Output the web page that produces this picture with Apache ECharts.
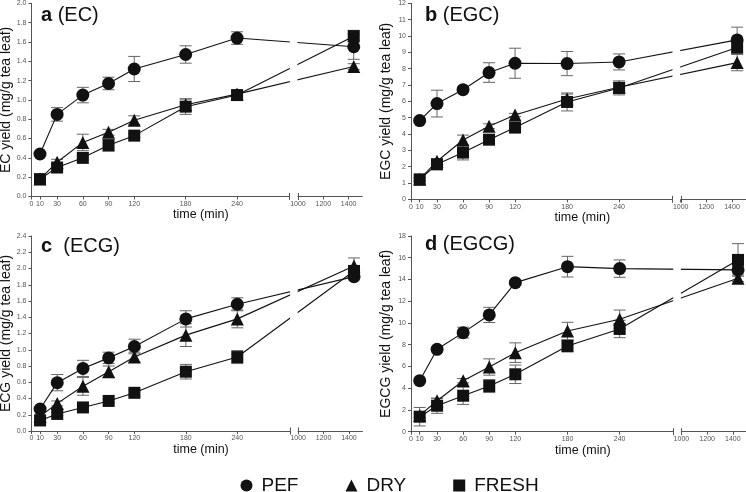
<!DOCTYPE html>
<html>
<head>
<meta charset="utf-8">
<script src="https://cdn.jsdelivr.net/npm/echarts@6/dist/echarts.min.js"></script>
<style>
html,body{margin:0;padding:0;background:#fff;}
#chart{width:746px;height:492px;}
</style>
</head>
<body>
<div id="chart"></div>
<script>
// ---------- data ----------
const timesMin = [10, 30, 60, 90, 120, 180, 240, 1440];
const xTickTimes = [0, 10, 30, 60, 90, 120, 180, 240, 1000, 1200, 1400];
const seriesNames = ['PEF', 'DRY', 'FRESH'];

const panelLetters = ['a', 'b', 'c', 'd'];
const panelCompounds = ['EC', 'EGC', 'ECG', 'EGCG'];

// EC
const ecPef = [0.44, 0.85, 1.05, 1.17, 1.32, 1.47, 1.64, 1.55];
const ecPefErr = [0.02, 0.07, 0.08, 0.065, 0.13, 0.09, 0.065, 0.13];
const ecDry = [0.18, 0.355, 0.56, 0.665, 0.79, 0.95, 1.06, 1.345];
const ecDryErr = [0.02, 0.03, 0.085, 0.03, 0.045, 0.06, 0.03, 0.03];
const ecFresh = [0.18, 0.30, 0.40, 0.53, 0.63, 0.93, 1.05, 1.66];
const ecFreshErr = [0.02, 0.02, 0.02, 0.06, 0.02, 0.08, 0.05, 0.06];

// EGC
const egcPef = [4.82, 5.86, 6.71, 7.76, 8.33, 8.31, 8.41, 9.76];
const egcPefErr = [0.1, 0.82, 0.1, 0.6, 0.92, 0.74, 0.49, 0.78];
const egcDry = [1.22, 2.33, 3.63, 4.47, 5.16, 6.14, 6.86, 8.37];
const egcDryErr = [0.1, 0.15, 0.3, 0.15, 0.1, 0.3, 0.3, 0.5];
const egcFresh = [1.22, 2.14, 2.86, 3.65, 4.39, 5.96, 6.82, 9.29];
const egcFreshErr = [0.1, 0.15, 0.45, 0.2, 0.1, 0.55, 0.43, 0.35];

// ECG
const ecgPef = [0.27, 0.595, 0.77, 0.90, 1.04, 1.38, 1.56, 1.90];
const ecgPefErr = [0.02, 0.1, 0.1, 0.07, 0.09, 0.1, 0.08, 0.04];
const ecgDry = [0.18, 0.34, 0.55, 0.73, 0.91, 1.18, 1.38, 2.03];
const ecgDryErr = [0.02, 0.03, 0.11, 0.07, 0.06, 0.14, 0.11, 0.1];
const ecgFresh = [0.13, 0.21, 0.29, 0.37, 0.47, 0.73, 0.91, 1.97];
const ecgFreshErr = [0.02, 0.02, 0.02, 0.02, 0.04, 0.09, 0.08, 0.05];

// EGCG
const egcgPef = [4.69, 7.58, 9.11, 10.74, 13.71, 15.18, 15.0, 14.88];
const egcgPefErr = [0.1, 0.2, 0.5, 0.7, 0.2, 0.95, 0.8, 0.3];
const egcgDry = [1.5, 2.85, 4.69, 5.95, 7.27, 9.26, 10.34, 14.11];
const egcgDryErr = [0.2, 0.2, 0.2, 0.75, 0.9, 0.8, 0.85, 0.3];
const egcgFresh = [1.38, 2.39, 3.31, 4.2, 5.28, 7.88, 9.45, 15.8];
const egcgFreshErr = [0.85, 0.7, 0.8, 0.6, 0.85, 0.55, 0.8, 1.5];

const yMax = [2.0, 12, 2.4, 18];
const yStep = [0.2, 1, 0.2, 2];
const yDecimals = [1, 0, 1, 0];

// ---------- layout / build ----------
const FONT = '"Liberation Sans", Arial, Helvetica, sans-serif';
const BREAK_LEFT_END = 301;   // last minute of left segment
const RIGHT_START_D = 311;    // axis coordinate where t=1000 sits
const RIGHT_SCALE = 0.148;    // compression of the 1000+ segment
const X_MAX_D = 386;

function toAxis(t) { return t <= BREAK_LEFT_END ? t : RIGHT_START_D + (t - 1000) * RIGHT_SCALE; }
function fromAxis(d) { return d <= BREAK_LEFT_END + 1 ? Math.round(d) : Math.round(1000 + (d - RIGHT_START_D) / RIGHT_SCALE); }

const panelData = [
  [[ecPef, ecPefErr], [ecDry, ecDryErr], [ecFresh, ecFreshErr]],
  [[egcPef, egcPefErr], [egcDry, egcDryErr], [egcFresh, egcFreshErr]],
  [[ecgPef, ecgPefErr], [ecgDry, ecgDryErr], [ecgFresh, ecgFreshErr]],
  [[egcgPef, egcgPefErr], [egcgDry, egcgDryErr], [egcgFresh, egcgFreshErr]]
];

const grids = [
  { left: 31.4, top: 3.3, width: 330.8, height: 193.2 },
  { left: 411, top: 3.3, width: 334.7, height: 196 },
  { left: 31.5, top: 236, width: 331, height: 195 },
  { left: 411, top: 236, width: 335.6, height: 195.7 }
];
const titlePos = [
  { left: 41, top: 5, gap: ' ' },
  { left: 425, top: 5, gap: ' ' },
  { left: 41, top: 236, gap: '  ' },
  { left: 425, top: 234, gap: ' ' }
];
const symbols = ['circle', 'triangle', 'rect'];
const symbolSizes = [13, 13, 12];
const AXIS_COLOR = '#555';

const option = {
  animation: false,
  backgroundColor: '#fff',
  textStyle: { fontFamily: FONT },
  title: panelLetters.map((l, i) => ({
    text: '{b|' + l + '}' + titlePos[i].gap + '(' + panelCompounds[i] + ')',
    left: titlePos[i].left, top: titlePos[i].top, padding: 0,
    textStyle: {
      fontFamily: FONT, fontSize: 20, fontWeight: 'normal', color: '#111',
      rich: { b: { fontFamily: FONT, fontSize: 20, fontWeight: 'bold', color: '#111' } }
    }
  })),
  legend: {
    left: 240.5, top: 476, padding: 0, itemWidth: 12, itemHeight: 12, itemGap: 47,
    textStyle: { fontFamily: FONT, fontSize: 19, color: '#111', padding: [0, 0, 0, 4] },
    data: seriesNames.map((n, i) => ({ name: n, icon: symbols[i] })),
    selectedMode: false
  },
  grid: grids.map(g => Object.assign({ containLabel: false, outerBoundsMode: 'none' }, g)),
  xAxis: grids.map((g, i) => ({
    type: 'value', gridIndex: i, min: 0, max: X_MAX_D,
    name: 'time (min)', nameLocation: 'middle', nameGap: 10,
    nameTextStyle: { fontFamily: FONT, fontSize: 12.5, color: '#111', padding: [0, 0, 0, 8], verticalAlign: 'top' },
    axisLine: { show: true, lineStyle: { color: AXIS_COLOR, width: 1 } },
    axisTick: { show: true, length: 3, lineStyle: { color: AXIS_COLOR }, customValues: xTickTimes.map(toAxis) },
    axisLabel: {
      show: true, fontSize: 7, color: '#555', margin: 4, fontFamily: FONT,
      customValues: xTickTimes.map(toAxis),
      formatter: v => String(fromAxis(v))
    },
    splitLine: { show: false }
  })),
  yAxis: grids.map((g, i) => ({
    type: 'value', gridIndex: i, min: 0, max: yMax[i], interval: yStep[i],
    name: panelCompounds[i] + ' yield (mg/g tea leaf)', nameLocation: 'middle', nameGap: 18,
    nameTextStyle: { fontFamily: FONT, fontSize: 14, color: '#111' },
    axisLine: { show: true, lineStyle: { color: AXIS_COLOR, width: 1 } },
    axisTick: { show: true, length: 3, lineStyle: { color: AXIS_COLOR } },
    axisLabel: { fontSize: 7, color: '#555', margin: 5, fontFamily: FONT, formatter: v => v.toFixed(yDecimals[i]) },
    splitLine: { show: false }
  })),
  series: []
};

panelData.forEach((panel, p) => {
  panel.forEach(([vals, errs], s) => {
    option.series.push({
      type: 'custom', name: seriesNames[s] + '-err', xAxisIndex: p, yAxisIndex: p, z: 1,
      silent: true,
      data: timesMin.map((t, k) => [toAxis(t), vals[k], errs[k]]),
      encode: { x: 0, y: 1 },
      renderItem: (params, api) => {
        const x = api.value(0), y = api.value(1), e = api.value(2);
        const top = api.coord([x, y + e]);
        const bot = api.coord([x, y - e]);
        const hw = 6;
        const st = { stroke: '#666', lineWidth: 1, fill: null };
        return {
          type: 'group', children: [
            { type: 'line', shape: { x1: top[0], y1: top[1], x2: bot[0], y2: bot[1] }, style: st },
            { type: 'line', shape: { x1: top[0] - hw, y1: top[1], x2: top[0] + hw, y2: top[1] }, style: st },
            { type: 'line', shape: { x1: bot[0] - hw, y1: bot[1], x2: bot[0] + hw, y2: bot[1] }, style: st }
          ]
        };
      }
    });
    option.series.push({
      type: 'line', name: seriesNames[s], xAxisIndex: p, yAxisIndex: p, z: 3,
      data: timesMin.map((t, k) => [toAxis(t), vals[k]]),
      symbol: symbols[s], symbolSize: symbolSizes[s], showSymbol: true,
      lineStyle: { color: '#111', width: 1.1 },
      itemStyle: { color: '#111', borderWidth: 0 },
      emphasis: { disabled: true },
      clip: false
    });
  });
});

const chart = echarts.init(document.getElementById('chart'), null, { renderer: 'canvas' });
chart.setOption(option);

// axis break: white gap + small end markers, positioned via the axes
const graphics = [];
grids.forEach((g, i) => {
  const xl = chart.convertToPixel({ xAxisIndex: i }, BREAK_LEFT_END);
  const xr = chart.convertToPixel({ xAxisIndex: i }, RIGHT_START_D);
  const y0 = chart.convertToPixel({ yAxisIndex: i }, 0);
  const yt = chart.convertToPixel({ yAxisIndex: i }, yMax[i]);
  graphics.push({
    type: 'rect', z: 100, silent: true,
    shape: { x: xl + 0.5, y: yt - 2, width: xr - xl - 1, height: y0 - yt + 3.5 },
    style: { fill: '#fff' }
  });
  [xl, xr].forEach(x => graphics.push({
    type: 'line', z: 101, silent: true,
    shape: { x1: Math.round(x) + 0.5, y1: y0 - 3.5, x2: Math.round(x) + 0.5, y2: y0 + 3.5 },
    style: { stroke: AXIS_COLOR, lineWidth: 1 }
  }));
});
chart.setOption({ graphic: graphics });
</script>
</body>
</html>
